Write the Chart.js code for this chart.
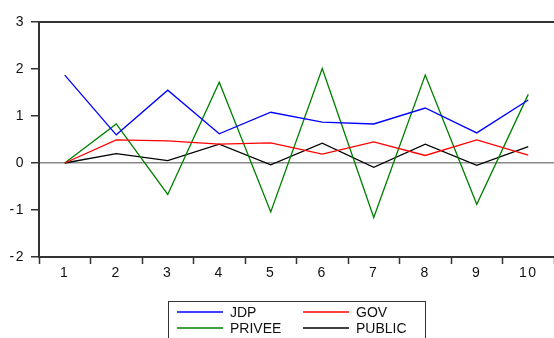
<!DOCTYPE html>
<html>
<head>
<meta charset="utf-8">
<script src="https://cdn.jsdelivr.net/npm/chart.js@4/dist/chart.umd.min.js"></script>
<style>
  html, body { margin: 0; padding: 0; background: #fff; }
  #wrap { position: relative; width: 554px; height: 338px; overflow: hidden; }
</style>
</head>
<body>
<div id="wrap">
  <canvas id="c" width="554" height="338"></canvas>
</div>
<script>
const categories = ['1','2','3','4','5','6','7','8','9','10'];
const jdp    = [1.87, 0.60, 1.55, 0.62, 1.08, 0.87, 0.83, 1.17, 0.64, 1.34];
const gov    = [0.00, 0.49, 0.47, 0.40, 0.43, 0.19, 0.45, 0.16, 0.49, 0.17];
const privee = [0.00, 0.83, -0.67, 1.72, -1.04, 2.01, -1.16, 1.87, -0.88, 1.46];
const publicS = [0.00, 0.20, 0.05, 0.40, -0.04, 0.42, -0.09, 0.40, -0.05, 0.35];
const yTicks = [-2, -1, 0, 1, 2, 3];

const series = [
  { label: 'JDP', data: jdp, color: '#0000ff' },
  { label: 'GOV', data: gov, color: '#ff0000' },
  { label: 'PRIVEE', data: privee, color: '#008000' },
  { label: 'PUBLIC', data: publicS, color: '#000000' }
];

const fontFamily = '"Liberation Sans", Arial, sans-serif';
const font = { family: fontFamily, size: 14 };

// slightly wider spacing for the axis numbers
const tickSpacing = {
  id: 'tickSpacing',
  beforeDraw(chart) { chart.ctx.letterSpacing = '1.5px'; }
};

// frame line along the top of the plot area
const topBorder = {
  id: 'topBorder',
  afterDraw(chart) {
    const { ctx, chartArea: a } = chart;
    ctx.save();
    ctx.strokeStyle = '#333';
    ctx.lineWidth = 2;
    ctx.beginPath();
    ctx.moveTo(a.left - 1, a.top);
    ctx.lineTo(a.right, a.top);
    ctx.stroke();
    ctx.restore();
  }
};

// two-column legend box under the x axis
const boxLegend = {
  id: 'boxLegend',
  afterDraw(chart) {
    const { ctx } = chart;
    const bx = 168.5, by = 301.5, bw = 257, bh = 50;
    ctx.save();
    ctx.letterSpacing = '0px';
    ctx.strokeStyle = '#333';
    ctx.lineWidth = 1;
    ctx.strokeRect(bx, by, bw, bh);
    ctx.font = '14px ' + fontFamily;
    ctx.textBaseline = 'middle';
    ctx.textAlign = 'left';
    const cols = [177, 303];
    const rows = [312, 328];
    chart.data.datasets.forEach((ds, i) => {
      const x = cols[i % 2], y = rows[Math.floor(i / 2)];
      ctx.strokeStyle = ds.borderColor;
      ctx.lineWidth = 1.3;
      ctx.beginPath();
      ctx.moveTo(x, y);
      ctx.lineTo(x + 46, y);
      ctx.stroke();
      ctx.fillStyle = '#111';
      ctx.fillText(ds.label, x + 53, y + 1);
    });
    ctx.restore();
  }
};

new Chart(document.getElementById('c'), {
  type: 'line',
  data: {
    labels: categories,
    datasets: series.map(s => ({
      label: s.label, data: s.data, borderColor: s.color, backgroundColor: s.color,
      borderWidth: 1.3, pointRadius: 0, tension: 0, fill: false
    }))
  },
  options: {
    responsive: false,
    animation: false,
    layout: { padding: { top: 22, right: 0, bottom: 51, left: 0 } },
    plugins: { legend: { display: false }, tooltip: { enabled: false } },
    scales: {
      x: {
        type: 'category',
        offset: true,
        afterFit(s) { s.height = 30; },
        grid: { offset: true, drawOnChartArea: false, drawTicks: true, tickLength: 7, tickColor: '#333', tickWidth: 1.5 },
        border: { display: true, color: '#333', width: 2 },
        ticks: { color: '#111', font, padding: 1, maxRotation: 0 }
      },
      y: {
        min: -2, max: 3,
        afterFit(s) { s.width = 39; },
        afterBuildTicks(s) { s.ticks = yTicks.map(v => ({ value: v })); },
        grid: {
          drawOnChartArea: true, drawTicks: true, tickLength: 8,
          color: c => (c.tick && c.tick.value === 0) ? '#888' : 'rgba(0,0,0,0)',
          lineWidth: 1.5, tickColor: '#333', tickWidth: 1.5
        },
        border: { display: true, color: '#333', width: 2 },
        ticks: { color: '#111', font, padding: 6, callback: v => String(v) }
      }
    }
  },
  plugins: [tickSpacing, topBorder, boxLegend]
});
</script>
</body>
</html>
